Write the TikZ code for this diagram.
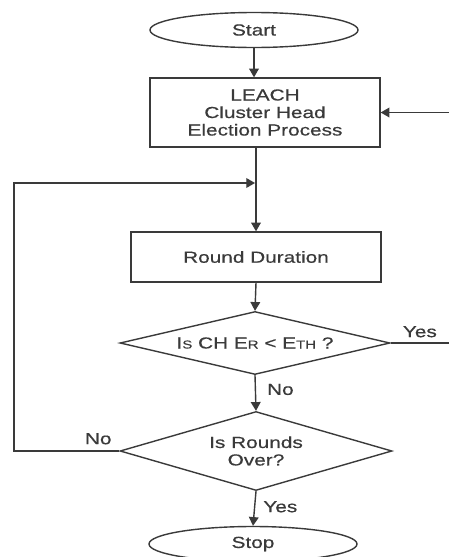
\documentclass[tikz,border=0pt]{standalone}
\usepackage{fontspec}
\setmainfont{Liberation Sans}[FakeStretch=1.3, FakeBold=0.5]
\usetikzlibrary{shapes,arrows}
\definecolor{inkgray}{RGB}{58,58,58}
\newcommand\smcap[1]{{\fontsize{11.5}{12}\selectfont #1}}

\begin{document}
\begin{tikzpicture}[%
    >=triangle 60,              % small filled heads as in the flow chart
    x=1pt, y=-1pt,              % work in picture points, top-down
    line width=1.4pt,
    every node/.style={font=\fontsize{16}{17.5}\selectfont, text=inkgray},
    ]
% -------------------------------------------------
% Box and connector styles
\tikzset{
  base/.style={draw=inkgray, align=center, inner sep=0pt},
  term/.style={base, ellipse, minimum width=208pt, minimum height=35pt},
  proc/.style={base, rectangle},
  test/.style={base, diamond},
  % Connector line styles
  norm/.style={->, draw=inkgray},
  lbl/.style={inner sep=2pt}
}
\useasboundingbox (0,0) rectangle (449,557);
% -------------------------------------------------
% Place the nodes
\node [term] (start) at (254,30) {Start};
\node [proc, minimum width=230pt, minimum height=69pt] (leach) at (265,112.5)
  {LEACH\\Cluster Head\\Election Process};
\node [proc, minimum width=250pt, minimum height=50pt] (round) at (256,257)
  {Round Duration};
\node [test, aspect=4.3, minimum width=270pt, minimum height=63pt] (energy) at (255,343)
  {I\smcap{S} CH E\smcap{R} < E\smcap{TH} ?};
\node [test, aspect=3.4, minimum width=272pt, minimum height=79pt] (over) at (256,451)
  {Is Rounds\\Over?};
\node [term] (stop) at (253,544) {Stop};
% free ends of the side connectors
\coordinate (feed) at (449,112.5);
\coordinate (yesend) at (449,343);
\coordinate (merge) at (255,183);
\coordinate (back) at (14,183);
% -------------------------------------------------
% Connect them
\draw [norm] (start.south) -- (start.south |- leach.north);
\draw [norm] (feed) -- (leach.east);
\draw [norm] (leach.south -| round.north) -- (round.north);
\draw [norm] (round.south) -- (energy.north);
\draw [inkgray] (energy.east) -- node [lbl, above=3pt] {Yes} (yesend);
\draw [norm] (energy.south) -- node [lbl, right=9pt, pos=0.4] {No} (over.north);
\draw [norm] (over.south) -- node [lbl, right=6pt, pos=0.45] {Yes} (stop.north);
\draw [norm] (over.west) -| node [lbl, above=4pt, pos=0.1] {No} (back) -- (merge);
% -------------------------------------------------
\end{tikzpicture}
\end{document}
